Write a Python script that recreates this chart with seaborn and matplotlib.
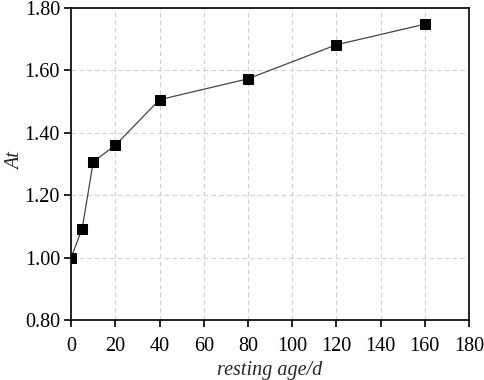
import matplotlib
matplotlib.use('Agg')
import matplotlib.pyplot as plt
import seaborn as sns
import pandas as pd

resting_age = [0, 5, 10, 20, 40, 80, 120, 160]
at_values = [1.00, 1.093, 1.307, 1.36, 1.506, 1.573, 1.682, 1.748]

sns.set_style("white")
plt.rcParams['font.family'] = ['Liberation Serif', 'DejaVu Serif']

df = pd.DataFrame({'age': resting_age, 'At': at_values})

fig = plt.figure(figsize=(4.84, 3.80), dpi=100)
ax = fig.add_axes([0.147, 0.158, 0.822, 0.821])

sns.lineplot(data=df, x='age', y='At', ax=ax, color='#444444', linewidth=0.9,
             marker='s', markersize=7, markerfacecolor='black', markeredgecolor='black')

ax.set_xlim(0, 180)
ax.set_ylim(0.80, 1.80)
ax.set_xticks(range(0, 181, 20))
ax.set_yticks([0.8, 1.0, 1.2, 1.4, 1.6, 1.8])
ax.set_yticklabels(['%.2f' % v for v in [0.8, 1.0, 1.2, 1.4, 1.6, 1.8]])
ax.grid(True, linestyle=(0, (4, 3)), color='#d0d0d0', linewidth=0.8)
ax.tick_params(axis='both', which='major', direction='out', length=5, width=1.2,
               labelsize=14.5, left=True, bottom=True, colors='black')
ax.tick_params(axis='y', pad=3)
ax.tick_params(axis='x', pad=7)
for s in ax.spines.values():
    s.set_color('black')
    s.set_linewidth(1.2)
ax.set_xlabel('resting age/d', fontsize=14.5, style='italic', labelpad=4)
ax.set_ylabel('At', fontsize=14.5, style='italic')
ax.yaxis.set_label_coords(-0.115, 0.51)

fig.savefig('out.png', dpi=100)
